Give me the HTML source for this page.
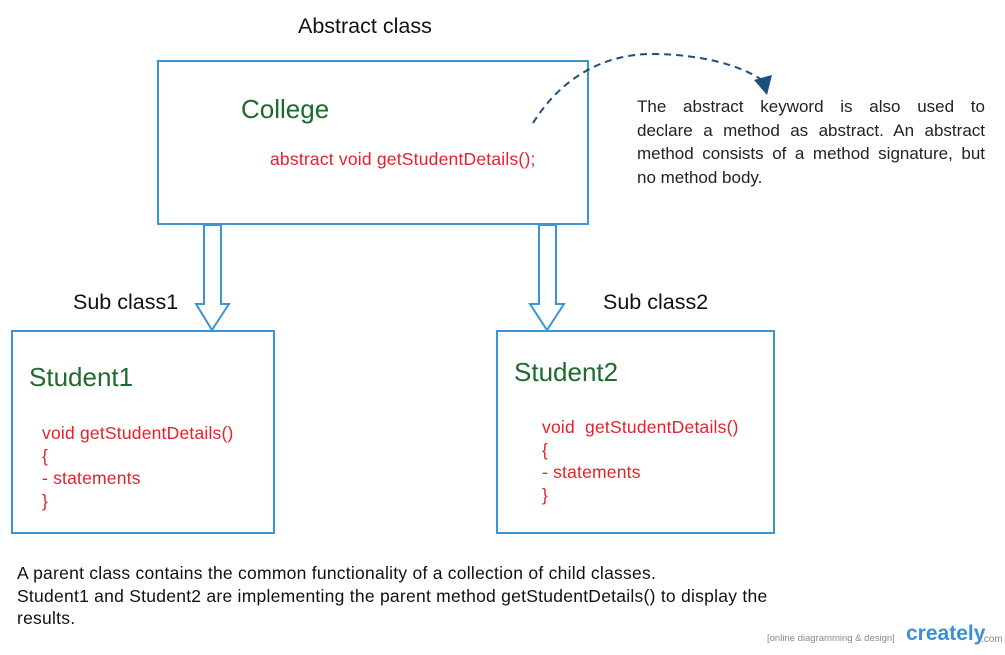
<!DOCTYPE html>
<html><head><style>
body{margin:0;width:1005px;height:655px;background:#fff;position:relative;overflow:hidden;font-family:"Liberation Sans",Arial,sans-serif}
.t{position:absolute;white-space:nowrap}
.g{color:#1e6a2e;font-size:26px}
.r{color:#e8202a;font-size:17.5px;line-height:22.5px;letter-spacing:0.2px}
.k{color:#111;font-size:21.5px}
.j{display:block;width:348px;text-align:justify;text-align-last:justify;height:23.5px}
</style></head><body>
<svg width="1005" height="655" style="position:absolute;left:0;top:0">
<g fill="none" stroke="#3a95d6" stroke-width="2">
<rect x="158" y="61" width="430" height="163"/>
<rect x="12" y="331" width="262" height="202"/>
<rect x="497" y="331" width="277" height="202"/>
<path d="M204 225 H221 V304 H229 L212 330 L196 304 H204 Z"/>
<path d="M539 225 H556 V304 H564 L547 330 L530 304 H539 Z"/>
</g>
<path d="M533 123 C560 80 600 55 650 54 C700 54 740 65 762 80" fill="none" stroke="#1b4f7e" stroke-width="2" stroke-dasharray="7,5"/>
<polygon points="754,80 772,75 767,95" fill="#1b4f7e"/>
</svg>
<div class="t k" style="left:298px;top:14px">Abstract class</div>
<div class="t g" style="left:241px;top:94px">College</div>
<div class="t r" style="left:270px;top:148px">abstract void getStudentDetails();</div>
<div class="t" style="left:637px;top:95px;font-size:17px;line-height:23.5px;color:#222">
<span class="j">The abstract keyword is also used to</span>
<span class="j">declare a method as abstract. An abstract</span>
<span class="j">method consists of a method signature, but</span>
<span style="display:block">no method body.</span></div>
<div class="t k" style="left:73px;top:290px">Sub class1</div>
<div class="t k" style="left:603px;top:290px">Sub class2</div>
<div class="t g" style="left:29px;top:362px">Student1</div>
<div class="t r" style="left:42px;top:422px">void getStudentDetails()<br>{<br>- statements<br>}</div>
<div class="t g" style="left:514px;top:357px">Student2</div>
<div class="t r" style="left:542px;top:416px">void&nbsp; getStudentDetails()<br>{<br>- statements<br>}</div>
<div class="t" style="left:17px;top:562px;font-size:17.5px;line-height:22.5px;color:#111;letter-spacing:0.25px">A parent class contains the common functionality of a collection of child classes.<br>Student1 and Student2 are implementing the parent method getStudentDetails() to display the<br>results.</div>
<div class="t" style="left:767px;top:633px;font-size:9.5px;color:#888">[online diagramming &amp; design]</div>
<div class="t" style="left:906px;top:622px;font-size:21px;color:#3a8fd6;font-weight:bold">creately</div>
<div class="t" style="left:981px;top:634px;font-size:10px;color:#888">.com</div>
</body></html>
